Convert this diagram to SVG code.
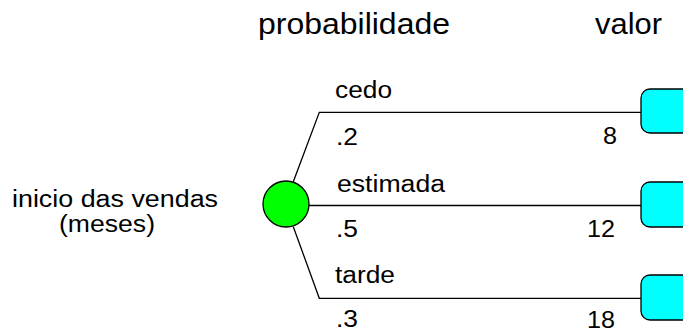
<svg xmlns="http://www.w3.org/2000/svg" width="683" height="334" viewBox="0 0 683 334">
<style>
text{font-family:"Liberation Sans",Arial,sans-serif;fill:#000}
.h{font-size:29px}
.l{font-size:23px}
.c{fill:none;stroke:#000;stroke-width:1.3}
.box{fill:#00ffff;stroke:#000;stroke-width:1.3}
</style>
<rect width="683" height="334" fill="#fff"/>
<g id="headers">
<text class="h" x="258" y="34" textLength="192" lengthAdjust="spacingAndGlyphs">probabilidade</text>
<text class="h" x="595" y="34" textLength="67" lengthAdjust="spacingAndGlyphs">valor</text>
</g>
<g id="connectors">
<polyline class="c" points="293.3,181.7 319.3,112.3 641,112.3"/>
<line class="c" x1="309" y1="205.5" x2="641" y2="205.5"/>
<polyline class="c" points="293.3,226.7 319.3,298.3 641,298.3"/>
</g>
<g id="labels">
<text class="l" x="335" y="98" textLength="57" lengthAdjust="spacingAndGlyphs">cedo</text>
<text class="l" x="336" y="145" textLength="22" lengthAdjust="spacingAndGlyphs">.2</text>
<text class="l" x="337" y="192" textLength="108" lengthAdjust="spacingAndGlyphs">estimada</text>
<text class="l" x="336" y="237" textLength="22" lengthAdjust="spacingAndGlyphs">.5</text>
<text class="l" x="335" y="283" textLength="60" lengthAdjust="spacingAndGlyphs">tarde</text>
<text class="l" x="336" y="327" textLength="22" lengthAdjust="spacingAndGlyphs">.3</text>
<text class="l" x="603" y="144" textLength="14" lengthAdjust="spacingAndGlyphs">8</text>
<text class="l" x="587" y="237" textLength="28" lengthAdjust="spacingAndGlyphs">12</text>
<text class="l" x="587" y="328" textLength="28" lengthAdjust="spacingAndGlyphs">18</text>
</g>
<g id="chance-node">
<circle cx="286" cy="204" r="23" fill="#00ff00" stroke="#000" stroke-width="1.3"/>
<text class="l" x="12" y="207" textLength="206" lengthAdjust="spacingAndGlyphs">inicio das vendas</text>
<text class="l" x="59" y="232" textLength="96" lengthAdjust="spacingAndGlyphs">(meses)</text>
</g>
<g id="end-node-1"><rect class="box" x="641" y="89" width="52" height="44" rx="9"/></g>
<g id="end-node-2"><rect class="box" x="641" y="182" width="52" height="45" rx="9"/></g>
<g id="end-node-3"><rect class="box" x="641" y="275" width="52" height="45" rx="9"/></g>
</svg>
